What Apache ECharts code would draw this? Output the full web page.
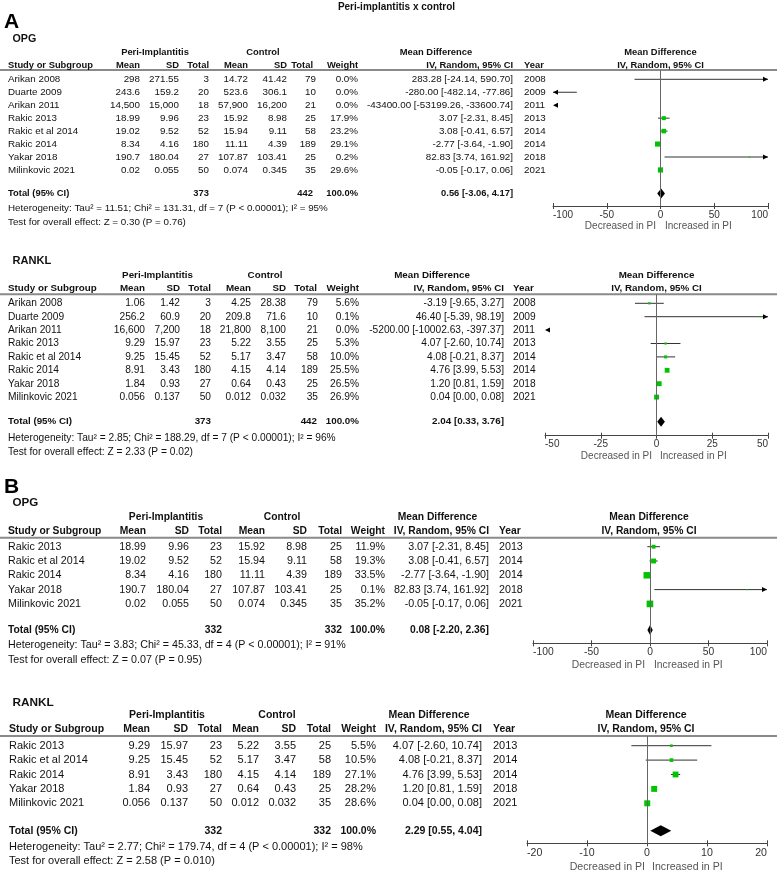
<!DOCTYPE html>
<html><head><meta charset="utf-8">
<script src="https://cdn.jsdelivr.net/npm/echarts@6/dist/echarts.min.js"></script>
<style>html,body{margin:0;padding:0;background:#fff}#c{width:777px;height:872px}</style>
</head><body><div id="c"></div>
<script>
// ---------------- DATA ----------------
const mainTitle = 'Peri-implantitis x control';
const studiesA = ['Arikan 2008','Duarte 2009','Arikan 2011','Rakic 2013','Rakic et al 2014','Rakic 2014','Yakar 2018','Milinkovic 2021'];
const yearsA = [2008,2009,2011,2013,2014,2014,2018,2021];
const studiesB = ['Rakic 2013','Rakic et al 2014','Rakic 2014','Yakar 2018','Milinkovic 2021'];
const yearsB = [2013,2014,2014,2018,2021];

// [mean, SD, total]
const aOpgPI  = [[298,271.55,3],[243.6,159.2,20],[14500,15000,18],[18.99,9.96,23],[19.02,9.52,52],[8.34,4.16,180],[190.7,180.04,27],[0.02,0.055,50]];
const aOpgCtl = [[14.72,41.42,79],[523.6,306.1,10],[57900,16200,21],[15.92,8.98,25],[15.94,9.11,58],[11.11,4.39,189],[107.87,103.41,25],[0.074,0.345,35]];
// [weight %, MD, lower, upper]
const aOpgEff = [[0.0,283.28,-24.14,590.70],[0.0,-280.00,-482.14,-77.86],[0.0,-43400.00,-53199.26,-33600.74],[17.9,3.07,-2.31,8.45],[23.2,3.08,-0.41,6.57],[29.1,-2.77,-3.64,-1.90],[0.2,82.83,3.74,161.92],[29.6,-0.05,-0.17,0.06]];
// [PI total, control total, weight, MD, lower, upper]
const aOpgTotal = [373,442,100.0,0.56,-3.06,4.17];
const aOpgHet = 'Heterogeneity: Tau\u00b2 = 11.51; Chi\u00b2 = 131.31, df = 7 (P < 0.00001); I\u00b2 = 95%';
const aOpgTest = 'Test for overall effect: Z = 0.30 (P = 0.76)';

const aRanklPI  = [[1.06,1.42,3],[256.2,60.9,20],[16600,7200,18],[9.29,15.97,23],[9.25,15.45,52],[8.91,3.43,180],[1.84,0.93,27],[0.056,0.137,50]];
const aRanklCtl = [[4.25,28.38,79],[209.8,71.6,10],[21800,8100,21],[5.22,3.55,25],[5.17,3.47,58],[4.15,4.14,189],[0.64,0.43,25],[0.012,0.032,35]];
const aRanklEff = [[5.6,-3.19,-9.65,3.27],[0.1,46.40,-5.39,98.19],[0.0,-5200.00,-10002.63,-397.37],[5.3,4.07,-2.60,10.74],[10.0,4.08,-0.21,8.37],[25.5,4.76,3.99,5.53],[26.5,1.20,0.81,1.59],[26.9,0.04,0.00,0.08]];
const aRanklTotal = [373,442,100.0,2.04,0.33,3.76];
const aRanklHet = 'Heterogeneity: Tau\u00b2 = 2.85; Chi\u00b2 = 188.29, df = 7 (P < 0.00001); I\u00b2 = 96%';
const aRanklTest = 'Test for overall effect: Z = 2.33 (P = 0.02)';

const bOpgPI  = [[18.99,9.96,23],[19.02,9.52,52],[8.34,4.16,180],[190.7,180.04,27],[0.02,0.055,50]];
const bOpgCtl = [[15.92,8.98,25],[15.94,9.11,58],[11.11,4.39,189],[107.87,103.41,25],[0.074,0.345,35]];
const bOpgEff = [[11.9,3.07,-2.31,8.45],[19.3,3.08,-0.41,6.57],[33.5,-2.77,-3.64,-1.90],[0.1,82.83,3.74,161.92],[35.2,-0.05,-0.17,0.06]];
const bOpgTotal = [332,332,100.0,0.08,-2.20,2.36];
const bOpgHet = 'Heterogeneity: Tau\u00b2 = 3.83; Chi\u00b2 = 45.33, df = 4 (P < 0.00001); I\u00b2 = 91%';
const bOpgTest = 'Test for overall effect: Z = 0.07 (P = 0.95)';

const bRanklPI  = [[9.29,15.97,23],[9.25,15.45,52],[8.91,3.43,180],[1.84,0.93,27],[0.056,0.137,50]];
const bRanklCtl = [[5.22,3.55,25],[5.17,3.47,58],[4.15,4.14,189],[0.64,0.43,25],[0.012,0.032,35]];
const bRanklEff = [[5.5,4.07,-2.60,10.74],[10.5,4.08,-0.21,8.37],[27.1,4.76,3.99,5.53],[28.2,1.20,0.81,1.59],[28.6,0.04,0.00,0.08]];
const bRanklTotal = [332,332,100.0,2.29,0.55,4.04];
const bRanklHet = 'Heterogeneity: Tau\u00b2 = 2.77; Chi\u00b2 = 179.74, df = 4 (P < 0.00001); I\u00b2 = 98%';
const bRanklTest = 'Test for overall effect: Z = 2.58 (P = 0.010)';

// axis scales [min, max, interval]
const aOpgScale = [-100,100,50];
const aRanklScale = [-50,50,25];
const bOpgScale = [-100,100,50];
const bRanklScale = [-20,20,10];
const favourLeft = 'Decreased in PI';
const favourRight = 'Increased in PI';

// ---------------- LAYOUT ----------------
const FF = '"Liberation Sans", Arial, Helvetica, sans-serif';
const layouts = [
  {letter:'A', letterY:22.5, name:'OPG', fs:9.8, fb:9.4, pf:10, tY:39, h1:52, h2:65, line:70, r0:79.3, step:12.95, tot:193.5, het:208.3, test:222.3, axis:206, dec:226, gl:553, gr:768, sq:0.95, dh:5,
   c:{study:8, piM:140, piS:179, piN:209, ctM:248, ctS:287, ctN:316, ctNh:313, w:358, md:513, yr:524, piC:155, ctC:263, mdC:436, plC:660.5, decR:656, incL:665}},
  {name:'RANKL', fs:10.2, fb:9.8, pf:10, tY:261, h1:275, h2:288.3, line:294.3, r0:303.3, step:13.4, tot:421.7, het:438.3, test:451.7, axis:435.7, dec:456, gl:545, gr:768, sq:0.95, dh:5,
   c:{study:8, piM:145, piS:180, piN:211, ctM:251, ctS:286, ctN:318, ctNh:317, w:359, md:504, yr:513, piC:157.5, ctC:265, mdC:432, plC:656.5, decR:652, incL:660}},
  {letter:'B', letterY:487, name:'OPG', fs:10.7, fb:10.3, pf:10.3, tY:502.7, h1:516.7, h2:531, line:537.7, r0:546.7, step:14.3, tot:630, het:645, test:660, axis:643.3, dec:665, gl:533, gr:767, sq:1.12, dh:5,
   c:{study:8, piM:146, piS:189, piN:222, ctM:265, ctS:307, ctN:342, ctNh:342, w:385, md:489, yr:499, piC:166, ctC:282, mdC:437.5, plC:649, decR:645, incL:654}},
  {name:'RANKL', fs:11, fb:10.5, pf:10.6, tY:702.3, h1:715, h2:729, line:736, r0:745.7, step:14.4, tot:830.7, het:847.3, test:860.7, axis:843.3, dec:867, gl:527, gr:767, sq:1.12, dh:5.5,
   c:{study:9, piM:150, piS:188, piN:222, ctM:259, ctS:296, ctN:331, ctNh:331, w:376, md:482, yr:493, piC:167, ctC:277, mdC:429, plC:646, decR:645, incL:652}}
];
const panelData = [
  {studies:studiesA, years:yearsA, pi:aOpgPI, ctl:aOpgCtl, eff:aOpgEff, total:aOpgTotal, het:aOpgHet, test:aOpgTest, scale:aOpgScale},
  {studies:studiesA, years:yearsA, pi:aRanklPI, ctl:aRanklCtl, eff:aRanklEff, total:aRanklTotal, het:aRanklHet, test:aRanklTest, scale:aRanklScale},
  {studies:studiesB, years:yearsB, pi:bOpgPI, ctl:bOpgCtl, eff:bOpgEff, total:bOpgTotal, het:bOpgHet, test:bOpgTest, scale:bOpgScale},
  {studies:studiesB, years:yearsB, pi:bRanklPI, ctl:bRanklCtl, eff:bRanklEff, total:bRanklTotal, het:bRanklHet, test:bRanklTest, scale:bRanklScale}
];

// ---------------- BUILD ----------------
const fmtNum = v => v.toLocaleString('en-US', {maximumFractionDigits: 3});
const fmtCI = (m,l,h) => m.toFixed(2) + ' [' + l.toFixed(2) + ', ' + h.toFixed(2) + ']';
function txt(x, y, s, align, font, fill) {
  return {type:'text', x:x, y:y, silent:true, z:10,
    style:{text:String(s), x:0, y:0, align:align, verticalAlign:'middle', textAlign:align, textVerticalAlign:'middle', font:font, fill:fill || '#111'}};
}
const graphics = [];
graphics.push(txt(396.5, 7.5, mainTitle, 'center', 'bold 10px ' + FF));

const grids = [], xAxes = [], yAxes = [], series = [];

layouts.forEach(function (L, i) {
  const D = panelData[i];
  const c = L.c;
  const fR = L.fs + 'px ' + FF, fB = 'bold ' + L.fb + 'px ' + FF;
  if (L.letter) graphics.push(txt(4, L.letterY, L.letter, 'left', 'bold 21px ' + FF, '#000'));
  graphics.push(txt(12.5, L.tY, L.name, 'left', 'bold ' + (L.fb + 1.3) + 'px ' + FF));
  // header row 1
  graphics.push(txt(c.piC, L.h1, 'Peri-Implantitis', 'center', fB));
  graphics.push(txt(c.ctC, L.h1, 'Control', 'center', fB));
  graphics.push(txt(c.mdC, L.h1, 'Mean Difference', 'center', fB));
  graphics.push(txt(c.plC, L.h1, 'Mean Difference', 'center', fB));
  // header row 2
  graphics.push(txt(c.study, L.h2, 'Study or Subgroup', 'left', fB));
  graphics.push(txt(c.piM, L.h2, 'Mean', 'right', fB));
  graphics.push(txt(c.piS, L.h2, 'SD', 'right', fB));
  graphics.push(txt(c.piN, L.h2, 'Total', 'right', fB));
  graphics.push(txt(c.ctM, L.h2, 'Mean', 'right', fB));
  graphics.push(txt(c.ctS, L.h2, 'SD', 'right', fB));
  graphics.push(txt(c.ctNh, L.h2, 'Total', 'right', fB));
  graphics.push(txt(c.w, L.h2, 'Weight', 'right', fB));
  graphics.push(txt(c.md, L.h2, 'IV, Random, 95% CI', 'right', fB));
  graphics.push(txt(c.yr, L.h2, 'Year', 'left', fB));
  graphics.push(txt(c.plC, L.h2, 'IV, Random, 95% CI', 'center', fB));
  // header rule
  graphics.push({type:'line', silent:true, z:5, shape:{x1:0, y1:L.line, x2:777, y2:L.line}, style:{stroke:'#8a8a8a', lineWidth:2}});
  // study rows
  D.studies.forEach(function (s, k) {
    const y = L.r0 + k * L.step;
    const p = D.pi[k], q = D.ctl[k], e = D.eff[k];
    graphics.push(txt(c.study, y, s, 'left', fR));
    graphics.push(txt(c.piM, y, fmtNum(p[0]), 'right', fR));
    graphics.push(txt(c.piS, y, fmtNum(p[1]), 'right', fR));
    graphics.push(txt(c.piN, y, p[2], 'right', fR));
    graphics.push(txt(c.ctM, y, fmtNum(q[0]), 'right', fR));
    graphics.push(txt(c.ctS, y, fmtNum(q[1]), 'right', fR));
    graphics.push(txt(c.ctN, y, q[2], 'right', fR));
    graphics.push(txt(c.w, y, e[0].toFixed(1) + '%', 'right', fR));
    graphics.push(txt(c.md, y, fmtCI(e[1], e[2], e[3]), 'right', fR));
    graphics.push(txt(c.yr, y, D.years[k], 'left', fR));
  });
  // total rows
  const T = D.total;
  graphics.push(txt(c.study, L.tot, 'Total (95% CI)', 'left', fB));
  graphics.push(txt(c.piN, L.tot, T[0], 'right', fB));
  graphics.push(txt(c.ctNh, L.tot, T[1], 'right', fB));
  graphics.push(txt(c.w, L.tot, T[2].toFixed(1) + '%', 'right', fB));
  graphics.push(txt(c.md, L.tot, fmtCI(T[3], T[4], T[5]), 'right', fB));
  graphics.push(txt(c.study, L.het, D.het, 'left', fR));
  graphics.push(txt(c.study, L.test, D.test, 'left', fR));
  // favours labels
  graphics.push(txt(c.decR, L.dec, favourLeft, 'right', L.pf + 'px ' + FF, '#555'));
  graphics.push(txt(c.incL, L.dec, favourRight, 'left', L.pf + 'px ' + FF, '#555'));

  // plot area
  const yMin = (L.line - L.r0) / L.step, yMax = (L.axis - L.r0) / L.step;
  const totRow = (L.tot - L.r0) / L.step;
  const [mn, mx, iv] = D.scale;
  grids.push({left:L.gl, top:L.line, width:L.gr - L.gl, height:L.axis - L.line, containLabel:false});
  xAxes.push({gridIndex:i, type:'value', min:mn, max:mx, interval:iv, position:'bottom',
    axisLine:{show:true, onZero:false, lineStyle:{color:'#444', width:1}},
    axisTick:{show:true, length:3, lineStyle:{color:'#444', width:1}},
    axisLabel:{show:true, margin:4, fontSize:L.pf, fontFamily:FF, color:'#333', alignMinLabel:'left', alignMaxLabel:'right'},
    splitLine:{show:false}});
  xAxes.push({gridIndex:i, type:'value', min:mn, max:mx, interval:iv, position:'bottom',
    axisLine:{show:false, onZero:false}, axisTick:{show:true, inside:true, length:3, lineStyle:{color:'#444', width:1}},
    axisLabel:{show:false}, splitLine:{show:false}});
  yAxes.push({gridIndex:i, type:'value', inverse:true, min:yMin, max:yMax, show:false});

  const rows = D.eff.map(function (e, k) { return [k, e[0], e[1], e[2], e[3], 0]; });
  rows.push([totRow, T[2], T[3], T[4], T[5], 1]);
  series.push({
    type:'custom', coordinateSystem:'cartesian2d', xAxisIndex:i * 2, yAxisIndex:i, clip:false, silent:true,
    encode:{x:2, y:0}, data:rows,
    renderItem:function (params, api) {
      const row = api.value(0), w = api.value(1), md = api.value(2), lo = api.value(3), hi = api.value(4), kind = api.value(5);
      const X = function (v) { return api.coord([v, row])[0]; };
      const y = api.coord([0, row])[1];
      const ch = [];
      if (kind === 1) {
        ch.push({type:'polygon', shape:{points:[[X(lo), y], [X(md), y - L.dh], [X(hi), y], [X(md), y + L.dh]]}, style:{fill:'#000'}});
        return {type:'group', children:ch};
      }
      const l = Math.max(lo, mn), h = Math.min(hi, mx);
      if (h > l) ch.push({type:'line', shape:{x1:X(l), y1:y, x2:X(h), y2:y}, style:{stroke:'#333', lineWidth:1}});
      const arrow = function (x, dir) {
        return {type:'polygon', shape:{points:[[x, y], [x - dir * 5, y - 2.5], [x - dir * 5, y + 2.5]]}, style:{fill:'#000'}};
      };
      if (hi > mx) ch.push(arrow(X(mx), 1));
      if (lo < mn) ch.push(arrow(X(mn), -1));
      if (w > 0 && md >= mn && md <= mx) {
        const s = Math.max(1.3, L.sq * Math.sqrt(w));
        ch.push({type:'rect', shape:{x:X(md) - s / 2, y:y - s / 2, width:s, height:s}, style:{fill:'#00c400'}});
      }
      return {type:'group', children:ch};
    },
    markLine:{silent:true, symbol:['none', 'none'], label:{show:false}, animation:false,
      lineStyle:{color:'#666', width:1, type:'solid'}, data:[{xAxis:0}]}
  });
});

const chart = echarts.init(document.getElementById('c'), null, {renderer:'canvas'});
chart.setOption({
  animation:false,
  backgroundColor:'#fff',
  grid:grids, xAxis:xAxes, yAxis:yAxes, series:series,
  graphic:{elements:graphics}
});
</script></body></html>
